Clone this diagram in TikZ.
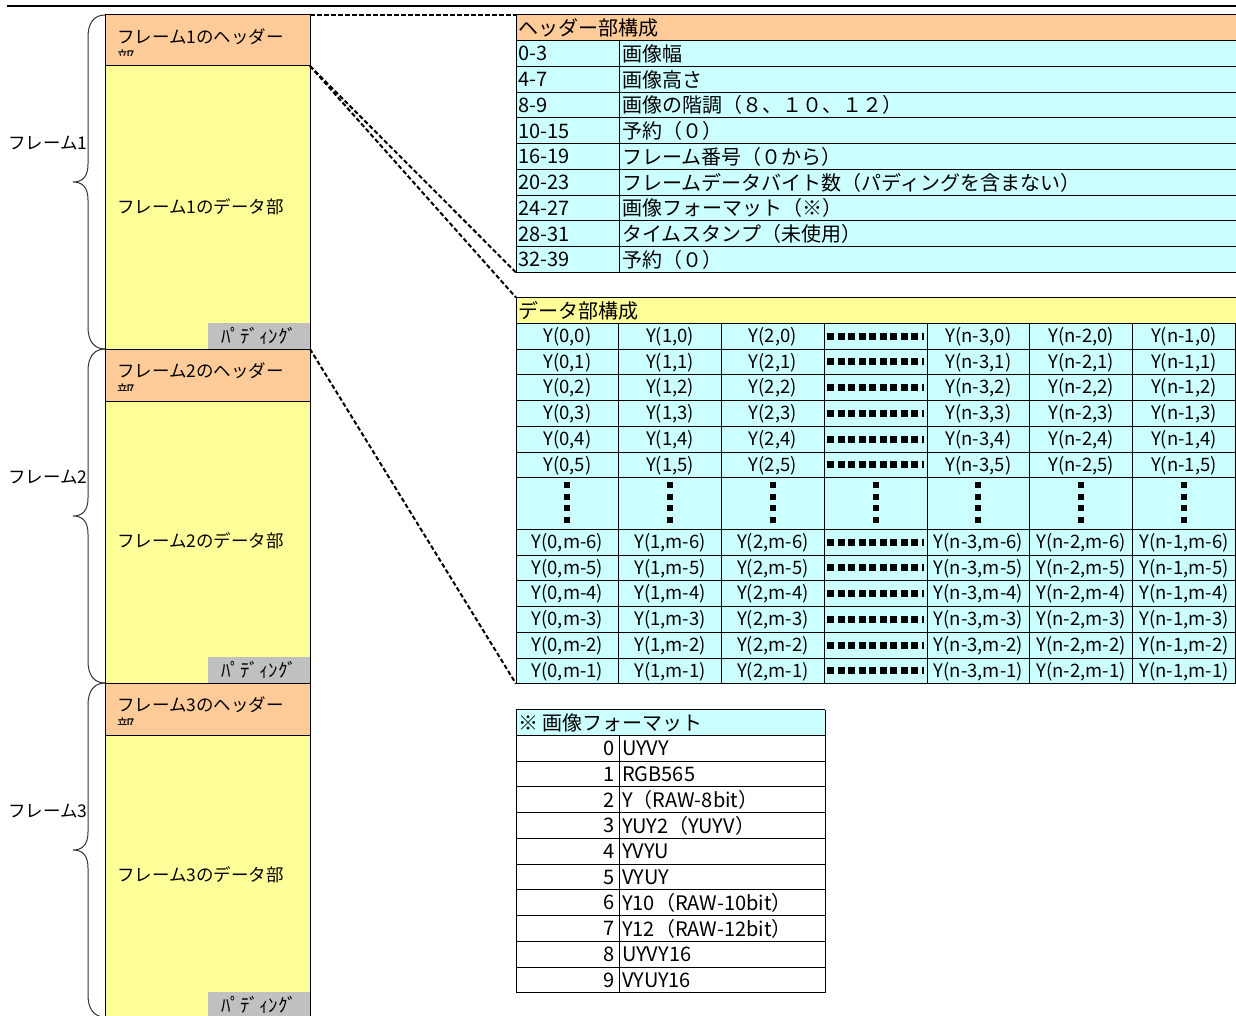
\documentclass[tikz,border=0pt]{standalone}
\usepackage{fontspec}
\setmainfont{Noto Sans CJK JP}
\definecolor{hdrc}{HTML}{FFCC99}
\definecolor{datc}{HTML}{FFFF99}
\definecolor{celc}{HTML}{CCFFFF}
\definecolor{padc}{HTML}{C0C0C0}
\tikzset{
 area/.style={inner sep=0pt, outer sep=0pt, anchor=north west, draw=none},
 edge/.style={line width=1pt, draw=black},
 conn/.style={line width=2pt, dash pattern=on 4.5pt off 2.5pt},
 ftl/.style={font=\fontsize{17.5}{20}\selectfont, inner sep=0pt},
 fth/.style={font=\fontsize{20}{24}\selectfont, inner sep=0pt},
 ftd/.style={font=\fontsize{18.5}{22}\selectfont, inner sep=0pt},
 ftp/.style={font=\fontsize{19}{22}\selectfont, inner sep=0pt},
 hdots/.style={line width=7pt, dash pattern=on 7pt off 3.5pt},
 vdots/.style={line width=6pt, dash pattern=on 6pt off 5.5pt},
 brace/.style={line width=1pt, draw=black!80},
}
\begin{document}
\begin{tikzpicture}[x=1pt,y=-1pt]
\useasboundingbox (0,0) rectangle (1236,1016);
\fill[white] (0,0) rectangle (1236,1016);
\draw[line width=2pt] (7,6) -- (1240,6);

% ---------- left column ----------
\node[area, fill=hdrc, minimum width=205pt, minimum height=51pt] (h1) at (105,15) {};
\node[area, fill=datc, minimum width=205pt, minimum height=283pt] (d1) at (105,66) {};
\node[area, fill=padc, minimum width=102pt, minimum height=26pt] (p1) at (208,323) {};
\node[area, fill=hdrc, minimum width=205pt, minimum height=52pt] (h2) at (105,349) {};
\node[area, fill=datc, minimum width=205pt, minimum height=282pt] (d2) at (105,401) {};
\node[area, fill=padc, minimum width=102pt, minimum height=26pt] (p2) at (208,657) {};
\node[area, fill=hdrc, minimum width=205pt, minimum height=52pt] (h3) at (105,683) {};
\node[area, fill=datc, minimum width=205pt, minimum height=290pt] (d3) at (105,735) {};
\node[area, fill=padc, minimum width=102pt, minimum height=30pt] (p3) at (208,992) {};
\foreach \b in {h1,d1,h2,d2,h3,d3}{
  \draw[edge] (\b.north west) rectangle (\b.south east);
}
\foreach \n/\y in {1/15,2/349,3/683}{
  \node[ftl, anchor=west] (ht\n) at (117,\y+22) {フレーム\n のヘッダー};
  \begin{scope}
    \clip (112,\y+34) rectangle (145,\y+41);
    \node[ftl, anchor=north west] (hb\n) at (117,\y+35) {部};
  \end{scope}
  \node[ftl, anchor=west] (dt\n) at (117,\y+192) {フレーム\n のデータ部};
  \node[ftl, anchor=west] (lt\n) at (8,\y+128) {フレーム\n};
}
\node[ftp] (p1t) at ([yshift=0.5pt]p1.center) {ﾊﾟﾃﾞｨﾝｸﾞ};
\node[ftp] (p2t) at ([yshift=0.5pt]p2.center) {ﾊﾟﾃﾞｨﾝｸﾞ};
\node[ftp] (p3t) at (259,1005) {ﾊﾟﾃﾞｨﾝｸﾞ};

% braces
\foreach \t/\b in {15/349,349/683,683/1017}{
  \pgfmathsetmacro\m{(\t+\b)/2}
  \draw[brace] (105,\t) .. controls (94,\t) and (88,\t+8) .. (88,\t+22)
    -- (88,\m-18) .. controls (88,\m-6) and (83,\m) .. (73,\m)
    .. controls (83,\m) and (88,\m+6) .. (88,\m+18)
    -- (88,\b-22) .. controls (88,\b-8) and (94,\b) .. (105,\b);
}

% ---------- header table ----------
\node[area, fill=celc, minimum width=724pt, minimum height=257.5pt] (htab) at (516,15) {};
\fill[hdrc] (516,15) rectangle (1240,40.75);
\foreach \k in {0,...,10}{ \draw[edge] (516,15+\k*25.75) -- (1240,15+\k*25.75); }
\draw[edge] (516,15) -- (516,272.5);
\draw[edge] (619,40.75) -- (619,272.5);
\node[fth, anchor=west] (htitle) at (518,28) {ヘッダー部構成};
\foreach \k/\a/\c in {1/0-3/画像幅, 2/4-7/画像高さ, 3/8-9/画像の階調（８、１０、１２）,
  4/10-15/予約（０）, 5/16-19/フレーム番号（０から）, 6/20-23/フレームデータバイト数（パディングを含まない）,
  7/24-27/画像フォーマット（※）, 8/28-31/タイムスタンプ（未使用）, 9/32-39/予約（０）}{
  \node[fth, anchor=west] (ha\k) at (518,15+\k*25.75+13) {\a};
  \node[fth, anchor=west] (hc\k) at (622,15+\k*25.75+13) {\c};
}

% ---------- data table ----------
\node[area, fill=celc, minimum width=724pt, minimum height=386.25pt] (dtab) at (516,297.5) {};
\fill[datc] (516,297.5) rectangle (1240,323.25);
\draw[edge] (516,297.5) -- (1240,297.5);
\foreach \k in {0,...,6}{
  \draw[edge] (516,323.25+\k*25.75) -- (1240,323.25+\k*25.75);
  \draw[edge] (516,529.25+\k*25.75) -- (1240,529.25+\k*25.75);
}
\draw[edge] (516,297.5) -- (516,683.75);
\foreach \j in {1,...,7}{ \draw[edge] (516+\j*102.75,323.25) -- (516+\j*102.75,683.75); }
\node[fth, anchor=west] (dtitle) at (518,310.5) {データ部構成};
\foreach \i/\rn in {0/0,1/1,2/2,3/3,4/4,5/5,6/m-6,7/m-5,8/m-4,9/m-3,10/m-2,11/m-1}{
  \pgfmathsetmacro\yy{\i<6 ? 323.25+(\i+0.5)*25.75 : 529.25+(\i-5.5)*25.75}
  \foreach \j/\cn in {0/0,1/1,2/2,4/n-3,5/n-2,6/n-1}{
    \node[ftd] (y\i-\j) at (516+\j*102.75+51.4,\yy+0.5) {Y(\cn,\rn)};
  }
  \draw[hdots] (827,\yy) -- (924,\yy);
}
\foreach \j in {0,...,6}{
  \draw[vdots] (516+\j*102.75+51.4,482) -- (516+\j*102.75+51.4,523);
}

% ---------- format table ----------
\node[area, fill=white, minimum width=309pt, minimum height=283.25pt] (ftab) at (516,709.5) {};
\fill[celc] (516,709.5) rectangle (825,735.25);
\foreach \k in {0,...,11}{ \draw[edge] (516,709.5+\k*25.75) -- (825,709.5+\k*25.75); }
\draw[edge] (516,709.5) -- (516,992.75);
\draw[edge] (825,709.5) -- (825,992.75);
\draw[edge] (619,735.25) -- (619,992.75);
\node[fth, anchor=west] (ftitle) at (518,722.5) {※ 画像フォーマット};
\foreach \k/\c in {0/UYVY,1/RGB565,2/Y（RAW-8bit）,3/YUY2（YUYV）,4/YVYU,5/VYUY,
  6/Y10（RAW-10bit）,7/Y12（RAW-12bit）,8/UYVY16,9/VYUY16}{
  \node[fth, anchor=east] (fn\k) at (615,735.25+\k*25.75+13) {\k};
  \node[fth, anchor=west] (fc\k) at (622,735.25+\k*25.75+13) {\c};
}

% ---------- connectors ----------
\draw[conn] (h1.north east) -- (htab.north west);
\draw[conn] (h1.south east) -- (htab.south west);
\draw[conn] (h1.south east) -- (dtab.north west);
\draw[conn] (p1.south east) -- (dtab.south west);
\end{tikzpicture}
\end{document}
